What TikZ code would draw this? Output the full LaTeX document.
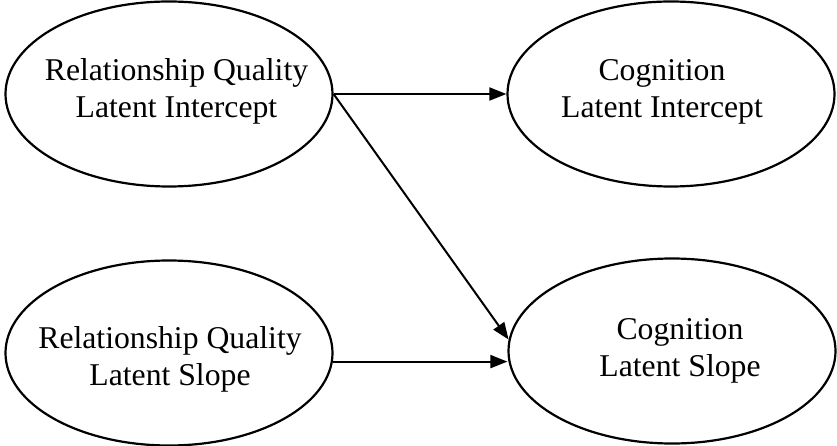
\documentclass[tikz,border=0pt]{standalone}
\usepackage{fontspec}
\setmainfont{Liberation Serif}
\usetikzlibrary{shapes.geometric,arrows.meta}
\tikzset{
  latent/.style={draw, ellipse, line width=2.2pt, inner sep=0pt, minimum width=327pt, minimum height=185pt},
  lbl/.style={align=center, inner sep=0pt, font=\fontsize{31.7}{37}\selectfont},
  path/.style={draw, line width=2pt, -{Triangle[length=17pt,width=13pt]}}
}
\begin{document}
\begin{tikzpicture}[x=1pt,y=-1pt]
\useasboundingbox (0,0) rectangle (837,446);
\node[latent] (rqi) at (169,94) {};
\node[latent] (ci) at (671,94) {};
\node[latent] (rqs) at (169,353) {};
\node[latent] (cs) at (672,351) {};
\node[lbl] (trqi) at (176.5,91) {Relationship Quality\\Latent Intercept};
\node[lbl] (tci) at (662,91.5) {Cognition\\Latent Intercept};
\node[lbl] (trqs) at (170,359) {Relationship Quality\\Latent Slope};
\node[lbl] (tcs) at (680,351) {Cognition\\Latent Slope};
\coordinate (s3) at (rqs.-3);
\path[path] (rqi.east) -- (ci.west);
\path[path] (rqi.east) -- (cs.176);
\path[path] (s3) -- (cs.west |- s3);
\end{tikzpicture}
\end{document}
